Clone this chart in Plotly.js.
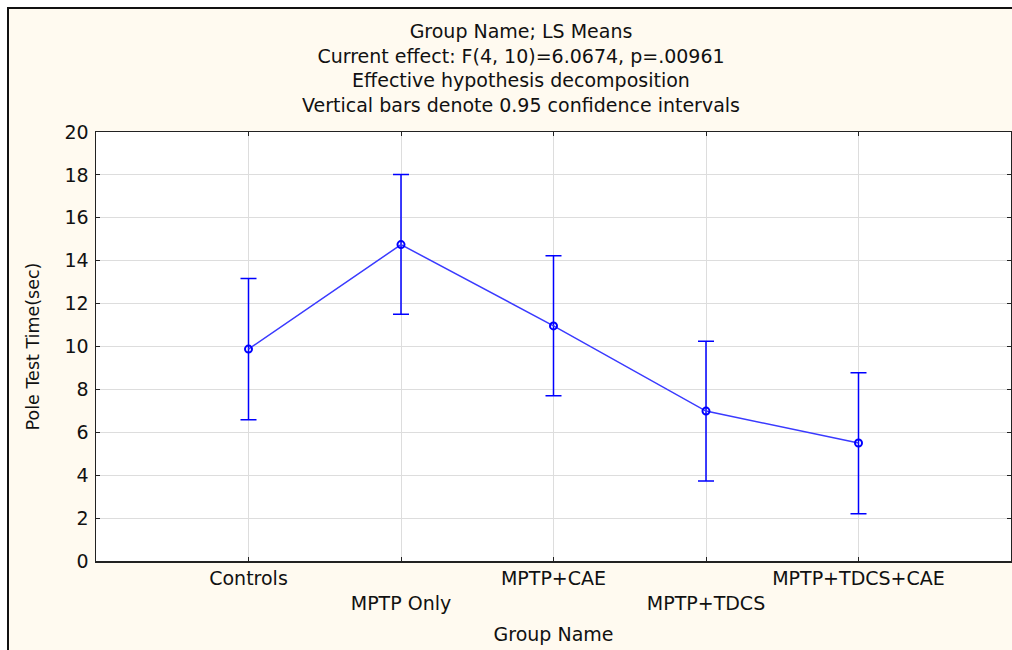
<!DOCTYPE html>
<html>
<head>
<meta charset="utf-8">
<script src="https://cdn.plot.ly/plotly-3.0.1.min.js"></script>
<style>
  html, body { margin: 0; padding: 0; background: #ffffff; }
  #frame { position: absolute; left: 7px; top: 7px; width: 1005px; height: 643px;
           border-left: 2px solid #111; border-top: 2px solid #111; background: #fffaf0; box-sizing: border-box; }
  #chart { position: absolute; left: 0; top: 0; width: 1012px; height: 650px; }
</style>
</head>
<body>
<div id="frame"></div>
<div id="chart"></div>
<script>
const groups = ["Controls", "MPTP Only", "MPTP+CAE", "MPTP+TDCS", "MPTP+TDCS+CAE"];
const tickLabels = ["Controls", "<br>MPTP Only", "MPTP+CAE", "<br>MPTP+TDCS", "MPTP+TDCS+CAE"];
const means = [9.88, 14.75, 10.96, 6.99, 5.50];
const ciUpper = [13.17, 18.02, 14.23, 10.25, 8.78];
const ciLower = [6.58, 11.50, 7.70, 3.73, 2.20];
const yTicks = [0, 2, 4, 6, 8, 10, 12, 14, 16, 18, 20];

const xPos = groups.map((g, i) => i);
const FONT = "DejaVu Sans, Liberation Sans, Arial, sans-serif";

const trace = {
  x: xPos,
  y: means,
  type: "scatter",
  mode: "lines+markers",
  line: { color: "#3a3aff", width: 1.5 },
  marker: { symbol: "circle-open", size: 7, color: "#0000ff", line: { width: 2, color: "#0000ff" } },
  error_y: {
    type: "data",
    symmetric: false,
    array: ciUpper.map((u, i) => u - means[i]),
    arrayminus: means.map((m, i) => m - ciLower[i]),
    color: "#0000ff",
    thickness: 1.5,
    width: 8
  },
  hoverinfo: "skip"
};

const layout = {
  width: 1012,
  height: 650,
  paper_bgcolor: "rgba(0,0,0,0)",
  plot_bgcolor: "#ffffff",
  margin: { l: 96, r: 1, t: 132, b: 89 },
  showlegend: false,
  font: { family: FONT, size: 19, color: "#111111" },
  title: {
    text: "Group Name; LS Means<br>Current effect: F(4, 10)=6.0674, p=.00961<br>Effective hypothesis decomposition<br>Vertical bars denote 0.95 confidence intervals",
    font: { family: FONT, size: 19, color: "#111111" },
    x: 521 / 1012, xanchor: "center", xref: "container",
    y: 1 - 38 / 650, yanchor: "top", yref: "container"
  },
  xaxis: {
    range: [-1, 5],
    tickvals: xPos,
    ticktext: tickLabels,
    showgrid: true,
    gridcolor: "#dddddd",
    gridwidth: 1,
    zeroline: false,
    showline: true,
    linecolor: "#222222",
    linewidth: 1.5,
    mirror: "ticks",
    ticks: "inside",
    ticklen: 4,
    tickcolor: "#222222",
    tickfont: { family: FONT, size: 19, color: "#111111" },
    title: { text: "Group Name", font: { family: FONT, size: 19, color: "#111111" }, standoff: 14 },
    fixedrange: true
  },
  yaxis: {
    range: [0, 20],
    tickvals: yTicks,
    ticktext: yTicks.map(String),
    showgrid: true,
    gridcolor: "#dddddd",
    gridwidth: 1,
    zeroline: false,
    showline: true,
    linecolor: "#222222",
    linewidth: 1.5,
    mirror: "ticks",
    ticks: "inside",
    ticklen: 4,
    tickcolor: "#222222",
    tickfont: { family: FONT, size: 19, color: "#111111" },
    ticklabelstandoff: 2,
    title: { text: "Pole Test Time(sec)", font: { family: FONT, size: 17.5, color: "#111111" }, standoff: 20 },
    fixedrange: true
  }
};

Plotly.newPlot("chart", [trace], layout, { displayModeBar: false, staticPlot: true });
</script>
</body>
</html>
